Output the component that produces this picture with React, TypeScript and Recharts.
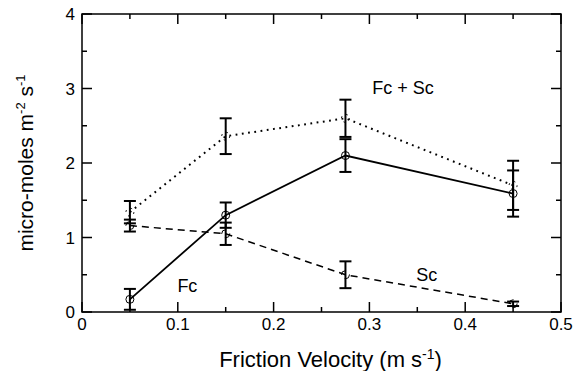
import { ComposedChart, Line, XAxis, YAxis, ErrorBar, ReferenceDot, ReferenceArea } from 'recharts';

// friction velocity (m s-1) and fluxes (micro-moles m-2 s-1)
const velocity = [0.05, 0.15, 0.275, 0.45];
const fc = [0.17, 1.3, 2.1, 1.59];
const fcErr = [0.14, 0.17, 0.22, 0.31];
const sc = [1.16, 1.05, 0.5, 0.11];
const scErr = [0.08, 0.15, 0.18, 0.03];
const fcSc = [1.34, 2.36, 2.6, 1.7];
const fcScErr = [0.15, 0.24, 0.25, 0.33];

const xMajor = [0, 0.1, 0.2, 0.3, 0.4, 0.5];
const xMinor = [0.05, 0.15, 0.25, 0.35, 0.45];
const yMajor = [0, 1, 2, 3, 4];
const yMinor = [0.5, 1.5, 2.5, 3.5];

const data = velocity.map((v, i) => ({
  v,
  fc: fc[i],
  fcErr: fcErr[i],
  sc: sc[i],
  scErr: scErr[i],
  fcSc: fcSc[i],
  fcScErr: fcScErr[i],
}));

const FONT = '"Liberation Sans", Arial, Helvetica, sans-serif';
const INK = '#000000';

// layout
const W = 586;
const H = 371;
const MARGIN = { top: 14, right: 25, bottom: 0, left: 0 };
const Y_AXIS_W = 82;
const X_AXIS_H = 59;
const PLOT_TOP = MARGIN.top;
const PLOT_RIGHT = W - MARGIN.right;

// bottom axis ticks, mirrored on the top edge, pointing inward
const BottomTick = (props: any) => {
  const { x, y, payload } = props;
  const isMajor = xMajor.includes(payload.value);
  const len = isMajor ? 10 : 5;
  return (
    <g>
      <line x1={x} y1={y} x2={x} y2={y - len} stroke={INK} strokeWidth={1.5} />
      <line x1={x} y1={PLOT_TOP} x2={x} y2={PLOT_TOP + len} stroke={INK} strokeWidth={1.5} />
      {isMajor && (
        <text x={x} y={y + 18} textAnchor="middle" fontSize={17} fill={INK} fontFamily={FONT}>
          {payload.value}
        </text>
      )}
    </g>
  );
};

// left axis ticks, mirrored on the right edge
const LeftTick = (props: any) => {
  const { x, y, payload } = props;
  const isMajor = yMajor.includes(payload.value);
  const len = isMajor ? 10 : 5;
  return (
    <g>
      <line x1={x} y1={y} x2={x + len} y2={y} stroke={INK} strokeWidth={1.5} />
      <line x1={PLOT_RIGHT} y1={y} x2={PLOT_RIGHT - len} y2={y} stroke={INK} strokeWidth={1.5} />
      {isMajor && (
        <text x={x - 7} y={y + 6} textAnchor="end" fontSize={17} fill={INK} fontFamily={FONT}>
          {payload.value}
        </text>
      )}
    </g>
  );
};

const XTitle = (props: any) => {
  const vb = props.viewBox;
  return (
    <text x={vb.x + vb.width / 2 + 9} y={vb.y + 55} textAnchor="middle" fontSize={22} fill={INK} fontFamily={FONT}>
      Friction Velocity (m s
      <tspan dy={-8} fontSize={14}>-1</tspan>
      <tspan dy={8}>)</tspan>
    </text>
  );
};

const YTitle = (props: any) => {
  const vb = props.viewBox;
  const cx = 33;
  const cy = vb.y + vb.height / 2;
  return (
    <text
      x={cx}
      y={cy}
      transform={`rotate(-90 ${cx} ${cy})`}
      textAnchor="middle"
      fontSize={21}
      fill={INK}
      fontFamily={FONT}
    >
      micro-moles m<tspan dy={-8} fontSize={13}>-2</tspan>
      <tspan dy={8}> s</tspan>
      <tspan dy={-8} fontSize={13}>-1</tspan>
    </text>
  );
};

const notes = [
  { text: 'Fc', v: 0.11, y: 0.35 },
  { text: 'Sc', v: 0.36, y: 0.5 },
  { text: 'Fc + Sc', v: 0.335, y: 3.01 },
];

export default function App() {
  const allX = [...xMajor, ...xMinor];
  const allY = [...yMajor, ...yMinor];
  return (
    <div style={{ position: 'absolute', left: 0, top: 0, width: W, height: H, background: '#fff' }}>
      <ComposedChart width={W} height={H} data={data} margin={MARGIN} style={{ fontFamily: FONT }}>
        <XAxis
          dataKey="v"
          type="number"
          domain={[0, 0.5]}
          allowDataOverflow
          ticks={allX}
          interval={0}
          tick={<BottomTick />}
          tickLine={false}
          tickSize={0}
          tickMargin={0}
          height={X_AXIS_H}
          axisLine={false}
          label={<XTitle />}
        />
        <YAxis
          type="number"
          domain={[0, 4]}
          allowDataOverflow
          ticks={allY}
          interval={0}
          tick={<LeftTick />}
          tickLine={false}
          tickSize={0}
          tickMargin={0}
          width={Y_AXIS_W}
          axisLine={false}
          label={<YTitle />}
        />

        {/* plot frame */}
        <ReferenceArea x1={0} x2={0.5} y1={0} y2={4} fill="none" stroke={INK} strokeWidth={1.5} ifOverflow="visible" />

        <Line
          dataKey="fcSc"
          stroke={INK}
          strokeWidth={2}
          strokeDasharray="1.8 4.5"
          dot={{ r: 4, fill: 'none', stroke: INK, strokeWidth: 1 }}
          isAnimationActive={false}
        >
          <ErrorBar dataKey="fcScErr" direction="y" width={6} stroke={INK} strokeWidth={2} isAnimationActive={false} />
        </Line>
        <Line
          dataKey="fc"
          stroke={INK}
          strokeWidth={1.8}
          dot={{ r: 4, fill: 'none', stroke: INK, strokeWidth: 1 }}
          isAnimationActive={false}
        >
          <ErrorBar dataKey="fcErr" direction="y" width={6} stroke={INK} strokeWidth={2} isAnimationActive={false} />
        </Line>
        <Line
          dataKey="sc"
          stroke={INK}
          strokeWidth={1.5}
          strokeDasharray="7 5"
          dot={{ r: 4, fill: 'none', stroke: INK, strokeWidth: 1 }}
          isAnimationActive={false}
        >
          <ErrorBar dataKey="scErr" direction="y" width={6} stroke={INK} strokeWidth={2} isAnimationActive={false} />
        </Line>

        {notes.map((n) => (
          <ReferenceDot
            key={n.text}
            x={n.v}
            y={n.y}
            r={0}
            fill="none"
            stroke="none"
            label={{ value: n.text, position: 'center', fontSize: 18, fill: INK, fontFamily: FONT }}
          />
        ))}
      </ComposedChart>
    </div>
  );
}
